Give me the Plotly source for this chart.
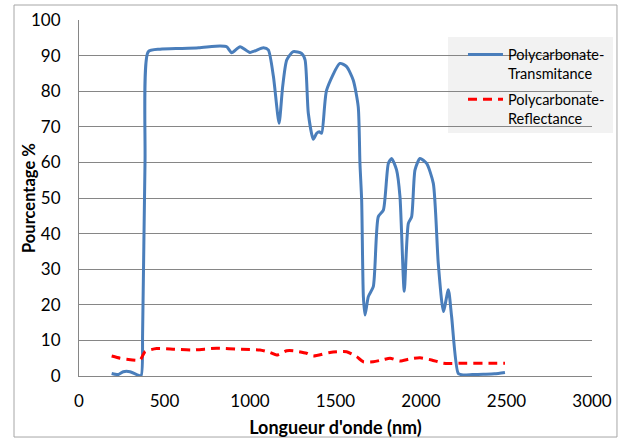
import plotly.graph_objects as go

# Transmittance
trans_nm = [191, 230, 259, 298, 337, 363, 372, 386, 405, 474, 600, 700, 825, 864, 893, 942, 1000,
            1078, 1107, 1137, 1170, 1191, 1215, 1253, 1302, 1322, 1341, 1370, 1390, 1405, 1419,
            1448, 1526, 1565, 1604, 1633, 1643, 1653, 1663, 1673, 1692, 1721, 1750, 1780, 1809,
            1828, 1857, 1877, 1902, 1926, 1945, 1965, 1994, 2033, 2072, 2101, 2131, 2160, 2179,
            2218, 2247, 2300, 2364, 2430, 2491]
trans_val = [0.7, 0.4, 1.2, 1.2, 0.4, 0.1, 12, 60, 91.1, 91.8, 92.0, 92.2, 92.7, 92.5, 90.8, 92.5, 90.9,
             92.2, 91.6, 84.1, 71.0, 81.3, 88.8, 91.1, 90.6, 88.8, 73.8, 66.5, 68.2, 68.6, 68.2,
             80.3, 87.8, 86.9, 83.1, 75.6, 59.7, 49.4, 22.3, 17.1, 22.3, 25.1, 44.7, 46.6, 59.7,
             61.1, 57.9, 50.4, 23.8, 42.9, 44.7, 57.9, 61.1, 59.7, 54.1, 31.6, 18.1, 24.2, 16.7,
             0.7, 0.3, 0.4, 0.5, 0.6, 1.0]

# Reflectance
refl_nm = [191, 240, 279, 357, 386, 454, 560, 668, 805, 950, 1058, 1117, 1156, 1215, 1253, 1331,
           1370, 1468, 1565, 1624, 1663, 1721, 1780, 1819, 1877, 1935, 1994, 2062, 2131, 2267, 2400, 2491]
refl_val = [5.6, 5.0, 4.7, 4.5, 6.8, 7.7, 7.5, 7.3, 7.8, 7.5, 7.3, 6.6, 5.9, 7.1, 7.1, 6.4,
            5.6, 6.6, 6.8, 5.4, 4.0, 4.0, 4.6, 5.0, 4.2, 4.8, 5.1, 4.5, 3.6, 3.6, 3.6, 3.6]

names = ["Polycarbonate-<br>Transmitance", "Polycarbonate-<br>Reflectance"]
x_ticks = [0, 500, 1000, 1500, 2000, 2500, 3000]
y_ticks = [0, 10, 20, 30, 40, 50, 60, 70, 80, 90, 100]
x_title = "Longueur d'onde (nm)"
y_title = "Pourcentage %"

FONT = "Lato, 'Liberation Sans', sans-serif"

fig = go.Figure()
fig.add_trace(go.Scatter(x=trans_nm, y=trans_val, mode="lines", name=names[0],
                         legendgroup="t", line=dict(color="#4a7ebb", width=3, shape="spline", smoothing=0.6)))
fig.add_trace(go.Scatter(x=refl_nm, y=refl_val, mode="lines", name=names[1],
                         legendgroup="r", line=dict(color="#ff0000", width=3, dash="9px,6px", shape="spline", smoothing=0.6)))

fig.update_layout(
    width=622, height=441,
    margin=dict(l=79, r=30, t=20, b=65, autoexpand=False),
    paper_bgcolor="white", plot_bgcolor="white",
    font=dict(family=FONT, size=17, color="#000000"),
    showlegend=True,
    legend=dict(x=0.7485, y=0.948, xanchor="left", yanchor="top",
                xref="paper", yref="paper",
                bgcolor="rgba(0,0,0,0)", borderwidth=0,
                font=dict(family=FONT, size=14.5, color="#000000"),
                traceorder="grouped", tracegroupgap=4, valign="top",
                itemwidth=35),
    xaxis=dict(range=[0, 3000], tickvals=x_ticks, ticktext=[str(v) for v in x_ticks],
               showgrid=False, zeroline=False, showline=True, linecolor="#868686", linewidth=1,
               ticks="", ticklen=0, tickfont=dict(size=17), ticklabelstandoff=10,
               title=dict(text="<b>" + x_title + "</b>", font=dict(size=18), standoff=10)),
    yaxis=dict(range=[0, 100], tickvals=y_ticks, ticktext=[str(v) for v in y_ticks],
               showgrid=True, gridcolor="#868686", gridwidth=1, zeroline=False,
               showline=True, linecolor="#868686", linewidth=1,
               ticks="", tickfont=dict(size=17), ticklabelstandoff=14),
    annotations=[dict(text="<b>" + y_title + "</b>", xref="paper", yref="paper",
                      x=-0.0975, y=0.5, xanchor="center", yanchor="middle",
                      textangle=-90, showarrow=False, font=dict(size=16.5))],
    shapes=[dict(type="rect", xref="paper", yref="paper",
                 x0=-0.1267, x1=1.0487, y0=-0.1714, y1=1.0421,
                 line=dict(color="#a6a6a6", width=1), fillcolor="rgba(0,0,0,0)", layer="below"),
            dict(type="rect", xref="paper", yref="paper",
                 x0=0.7193, x1=1.0409, y0=0.6826, y1=0.9522,
                 line=dict(width=0), fillcolor="#f2f2f2", layer="below")],
)

fig.write_html("out.html")
